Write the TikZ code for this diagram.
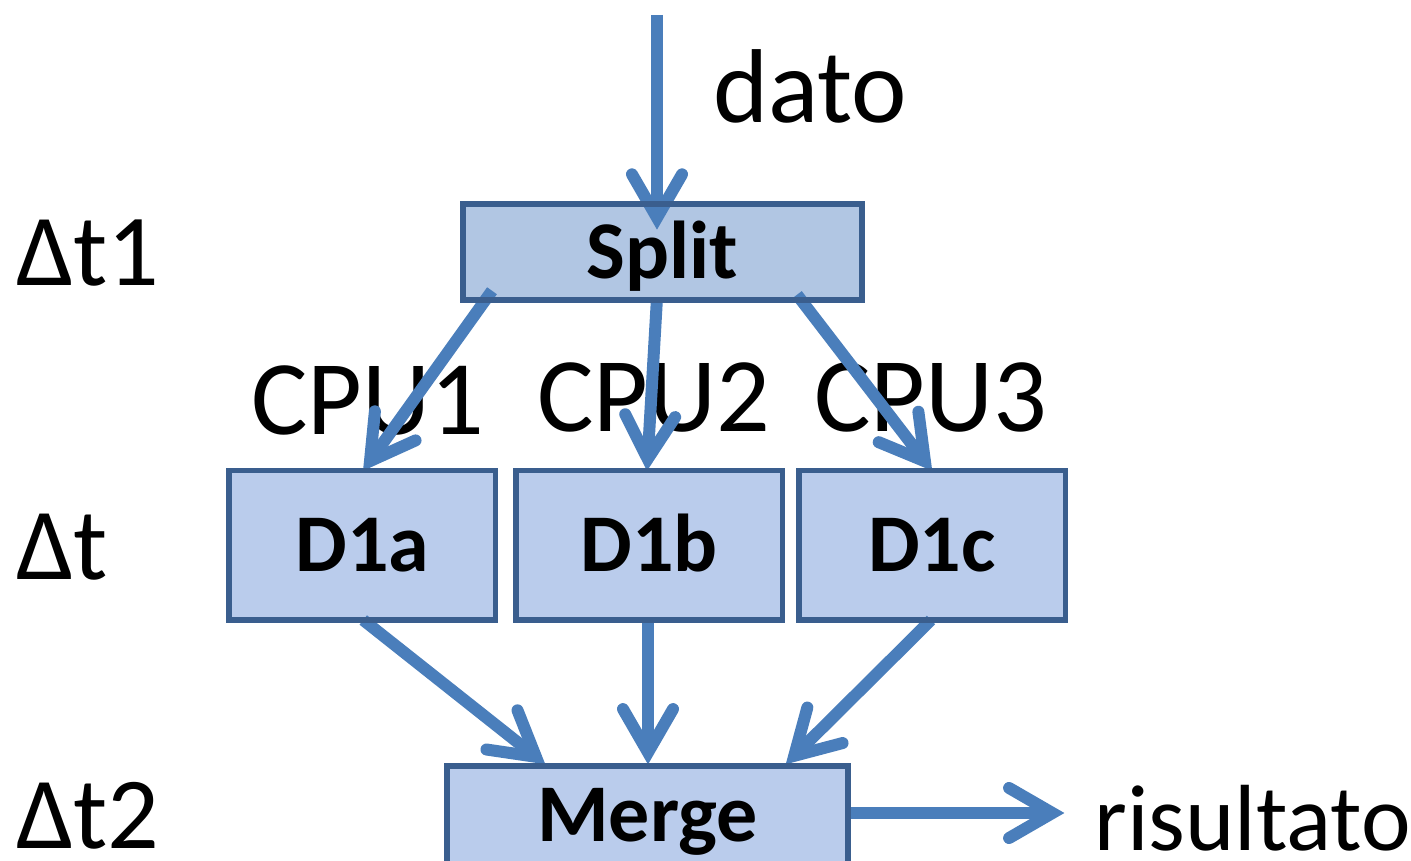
\documentclass[tikz,border=0pt]{standalone}
\usepackage{fontspec}
\setmainfont{Carlito}
\usetikzlibrary{calc}

\definecolor{flowblue}{HTML}{4A7EBB}
\definecolor{boxedge}{HTML}{3A5E8E}
\definecolor{splitfill}{HTML}{B1C6E3}
\definecolor{stepfill}{HTML}{BACCEC}

\tikzset{
  box/.style={draw=boxedge, line width=5.5pt, outer sep=0pt, inner sep=0pt,
    font=\fontsize{82}{90}\selectfont\bfseries, text height=52.8pt, text depth=0pt},
  boxrim/.style={draw=boxedge, line width=5.5pt},
  plain/.style={anchor=base west, inner sep=0pt},
  shaft/.style={draw=flowblue, line width=12pt, line cap=butt},
  barb/.style={draw=flowblue, line width=12pt, line cap=round, line join=miter},
}

% shaft from #1 to the apex #2, with an open V head
\newcommand\flowto[2]{%
  \coordinate (tp) at ($(#2)!11.6pt!(#1)$);
  \draw[shaft] (#1) -- (tp);
  \draw[barb] ($(tp)!50pt!30:(#1)$) -- (tp) -- ($(tp)!50pt!-30:(#1)$);
}

\begin{document}
\begin{tikzpicture}[x=1pt, y=-1pt]
\useasboundingbox (0,0) rectangle (1411,861);

% processing steps
\node[box, fill=splitfill, minimum width=399pt, minimum height=95.5pt] (split) at (662.5,252) {Split};
\node[box, fill=stepfill, minimum width=266.5pt, minimum height=149.5pt] (d1a) at (362.25,545.25) {D1a};
\node[box, fill=stepfill, minimum width=266.5pt, minimum height=149.5pt] (d1b) at (649,545.25) {D1b};
\node[box, fill=stepfill, minimum width=266.5pt, minimum height=149.5pt] (d1c) at (932,545.25) {D1c};
\node[box, fill=stepfill, minimum width=401pt, minimum height=98pt] (merge) at (647.5,815) {Merge};

% labels
\node[plain, font=\fontsize{105}{110}\selectfont] (dato) at (713,123) {dato};
\node[plain, font=\fontsize{94}{100}\selectfont] (ris) at (1094,850) {risultato};
\node[plain, font=\fontsize{102}{100}\selectfont] (dt1) at (16,285) {Δt1};
\node[plain, font=\fontsize{102}{100}\selectfont] (dt) at (16,579) {Δt};
\node[plain, font=\fontsize{102}{100}\selectfont] (dt2) at (16,848) {Δt2};
\node[plain, font=\fontsize{106}{110}\selectfont] (cpu1) at (251,434) {CPU1};
\node[plain, font=\fontsize{106}{110}\selectfont] (cpu2) at (537,431) {CPU2};
\node[plain, font=\fontsize{106}{110}\selectfont] (cpu3) at (814,431) {CPU3};

% connector ends
\coordinate (in)  at (657,15);
\coordinate (sIn) at ([shift={(-5.5,25)}]split.north);
\coordinate (sA)  at ([shift={(29,-9)}]split.south west);
\coordinate (sB)  at ([shift={(-5.5,-2)}]split.south);
\coordinate (sC)  at ([shift={(-65,-5)}]split.south east);
\coordinate (aTop) at ([xshift=1pt]d1a.north);
\coordinate (bTop) at ([xshift=-2pt]d1b.north);
\coordinate (cTop) at (d1c.north);
\coordinate (aBot) at ([xshift=1pt]d1a.south);
\coordinate (bBot) at ([xshift=-1pt]d1b.south);
\coordinate (cBot) at ([xshift=-1pt]d1c.south);
\coordinate (mA) at ([shift={(98,-2)}]merge.north west);
\coordinate (mB) at ([shift={(0.5,-2)}]merge.north);
\coordinate (mC) at ([shift={(-62,-2)}]merge.north east);
\coordinate (mOut) at ([shift={(0,-2)}]merge.east);
\coordinate (out) at (1064,813);

% data flow
\flowto{in}{sIn}
\flowto{sA}{aTop}
\flowto{sB}{bTop}
\flowto{sC}{cTop}
\flowto{aBot}{mA}
\flowto{bBot}{mB}
\flowto{cBot}{mC}
\flowto{mOut}{out}

% box outlines over the connectors
\foreach \n in {split,d1a,d1b,d1c,merge}
  \draw[boxrim] (\n.south west) rectangle (\n.north east);
\end{tikzpicture}
\end{document}
